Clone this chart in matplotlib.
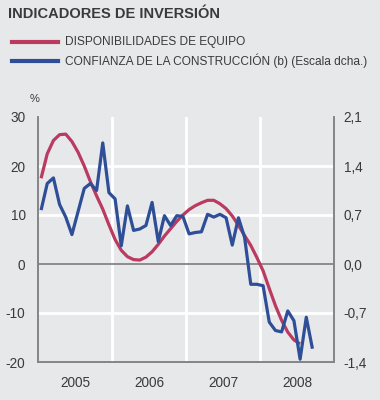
import numpy as np
import matplotlib
matplotlib.use("Agg")
import matplotlib.pyplot as plt
from matplotlib.ticker import FuncFormatter

# ── data (monthly, Jan 2005 onward) ─────────────────────────────
years = ["2005", "2006", "2007", "2008"]

# Disponibilidades de equipo (%), left scale
equipo = [17.5, 22.5, 25.2, 26.4, 26.5, 25.0, 22.8, 20.0, 16.8, 13.9, 11.2, 8.0,
          5.0, 2.8, 1.5, 0.9, 0.8, 1.4, 2.5, 4.0, 5.7, 7.2, 8.7, 10.0,
          11.1, 11.9, 12.5, 13.0, 13.0, 12.3, 11.3, 9.8, 7.9, 5.8, 3.8, 1.3,
          -1.4, -5.0, -8.5, -11.5, -13.9, -15.5, -16.3]

# Confianza de la construccion, right scale
construccion = [0.77, 1.15, 1.23, 0.85, 0.67, 0.42, 0.75, 1.08, 1.15, 1.05, 1.73, 1.02,
                0.93, 0.26, 0.83, 0.48, 0.50, 0.55, 0.88, 0.32, 0.69, 0.55, 0.69, 0.68,
                0.43, 0.45, 0.46, 0.71, 0.67, 0.71, 0.66, 0.27, 0.66, 0.38, -0.29, -0.29,
                -0.31, -0.83, -0.95, -0.97, -0.67, -0.81, -1.36, -0.76, -1.21]

left_ticks = [-20, -10, 0, 10, 20, 30]
right_ticks = [-1.4, -0.7, 0.0, 0.7, 1.4, 2.1]

RED = "#bb3a60"
BLUE = "#2e4f98"
BG = "#e7e8ea"
TXT = "#3a3a3a"
SPINE = "#858585"

plt.rcParams["font.family"] = ["Liberation Sans", "DejaVu Sans"]
plt.rcParams["axes.unicode_minus"] = False

fig = plt.figure(figsize=(3.8, 4.0), dpi=100, facecolor=BG)
ax = fig.add_axes([0.1, 0.095, 0.779, 0.6125])
ax.set_facecolor(BG)

x_eq = np.arange(len(equipo)) + 0.5
x_co = np.arange(len(construccion)) + 0.5

# grid
for v in [12, 24, 36]:
    ax.axvline(v, color="white", lw=2, zorder=1)
for v in [-10, 10, 20]:
    ax.axhline(v, color="white", lw=2, zorder=1)
ax.axhline(0, color=SPINE, lw=1.3, zorder=2)

ax.plot(x_eq, equipo, color=RED, lw=2.3, zorder=3, solid_capstyle="butt")
ax.set_xlim(0, 48)
ax.set_ylim(-20, 30)
ax.set_yticks(left_ticks)
ax.set_xticks([6, 18, 30, 42])
ax.set_xticklabels(years)
ax.tick_params(axis="both", length=0, labelsize=9.8, colors=TXT)
ax.tick_params(axis="y", pad=9)
ax.tick_params(axis="x", pad=10)

ax2 = ax.twinx()
ax2.plot(x_co, construccion, color=BLUE, lw=2.3, zorder=3, solid_capstyle="butt")
ax2.set_ylim(-1.4, 2.1)
ax2.set_yticks(right_ticks)
ax2.yaxis.set_major_formatter(FuncFormatter(lambda v, p: f"{v:.1f}".replace(".", ",")))
ax2.tick_params(axis="y", length=0, labelsize=9.8, colors=TXT, pad=7)

for a in (ax, ax2):
    a.spines["top"].set_visible(False)
    for s in ("left", "right", "bottom"):
        a.spines[s].set_color(SPINE)
        a.spines[s].set_linewidth(1.2)

# title, legend, unit
fig.text(8 / 380, 1 - 17.5 / 400, "INDICADORES DE INVERSIÓN", fontsize=10.5,
         fontweight="bold", color=TXT, va="baseline", ha="left")
for yy, col, lab in [(42, RED, "DISPONIBILIDADES DE EQUIPO"),
                     (61, BLUE, "CONFIANZA DE LA CONSTRUCCIÓN (b) (Escala dcha.)")]:
    fig.add_artist(plt.Line2D([12 / 380, 58 / 380], [1 - yy / 400] * 2,
                              color=col, lw=3))
    fig.text(65 / 380, 1 - yy / 400, lab, fontsize=8.6, color=TXT,
             va="center", ha="left")
fig.text(35 / 380, 1 - 99 / 400, "%", fontsize=8, color=TXT, va="center", ha="center")

fig.savefig("out.png", dpi=100, facecolor=BG)
